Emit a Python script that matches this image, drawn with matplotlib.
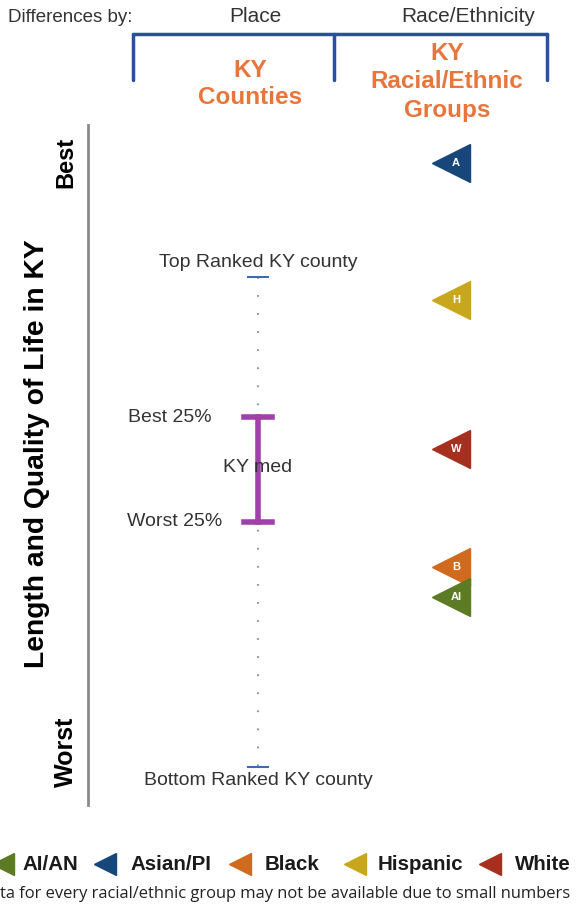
import matplotlib.pyplot as plt

plt.rcParams['font.family'] = ['Liberation Sans', 'DejaVu Sans']

# rank scale: 0 = top ranked KY county, 100 = bottom ranked KY county
county_top = 0
county_bottom = 100
best_25 = 28.6
ky_median = 38.8
worst_25 = 50.0

groups = ["A", "H", "W", "B", "AI"]
group_values = [-23.3, 4.7, 35.1, 59.2, 65.3]
group_colors = ["#17477a", "#c9a71c", "#a5301e", "#d06a1e", "#5d7a25"]

legend_labels = ["AI/AN", "Asian/PI", "Black", "Hispanic", "White"]
legend_colors = ["#5d7a25", "#17477a", "#d06a1e", "#c9a71c", "#a5301e"]

W, H = 584, 911
fig = plt.figure(figsize=(W / 100, H / 100), dpi=100)
ax = fig.add_axes([0, 0, 1, 1])
ax.set_xlim(0, W)
# pixel 277 -> 0, pixel 767 -> 100
scale = (767 - 277) / 100
ax.set_ylim((H - 277) / scale, (0 - 277) / scale)
ax.axis("off")


def fy(p):
    return 1 - p / H


def fx(p):
    return p / W


t = ax.transAxes
orange = "#e8753c"
blue = "#2a4f9c"
grey = "#333333"

# header
ax.text(fx(8), fy(17), "Differences by:", transform=t, fontsize=13.5, color=grey, va="center")
ax.text(fx(255), fy(17), "Place", transform=t, fontsize=15, color=grey, va="center", ha="center")
ax.text(fx(468), fy(17), "Race/Ethnicity", transform=t, fontsize=15, color=grey, va="center", ha="center")
ax.plot([fx(133), fx(547)], [fy(34), fy(34)], transform=t, color=blue, lw=2.5, solid_capstyle="round")
for xp in [133, 334, 547]:
    ax.plot([fx(xp), fx(xp)], [fy(34), fy(80)], transform=t, color=blue, lw=2.5, solid_capstyle="round")
ax.text(fx(250), fy(84), "KY\nCounties", transform=t, fontsize=17.5, color=orange, fontweight="bold",
        ha="center", va="center", linespacing=1.2)
ax.text(fx(447), fy(82), "KY\nRacial/Ethnic\nGroups", transform=t, fontsize=17.5, color=orange, fontweight="bold",
        ha="center", va="center", linespacing=1.3)

# left axis
ax.plot([fx(88), fx(88)], [fy(125), fy(805)], transform=t, color="#8a8a8a", lw=2)
ax.text(fx(66), fy(162), "Best", transform=t, fontsize=17, fontweight="bold", rotation=90, ha="center", va="center")
ax.text(fx(66), fy(752), "Worst", transform=t, fontsize=18, fontweight="bold", rotation=90, ha="center", va="center")
ax.text(fx(37), fy(454), "Length and Quality of Life in KY", transform=t, fontsize=20.3, fontweight="bold",
        rotation=90, ha="center", va="center")

# county column
cx = 258
ax.plot([cx, cx], [county_top, county_bottom], color="#6f8fbf", lw=1.3, linestyle=(0, (1, 9)))
for v in [county_top, county_bottom]:
    ax.plot([cx - 10, cx + 10], [v, v], color="#3d6cb5", lw=1.5)
ax.plot([cx, cx], [best_25, worst_25], color="#a040a8", lw=4, zorder=3)
for v in [best_25, worst_25]:
    ax.plot([cx - 14, cx + 14], [v, v], color="#a040a8", lw=4, zorder=3)
ax.text(cx, county_top - 3, "Top Ranked KY county", fontsize=14, color=grey, ha="center", va="center")
ax.text(cx, county_bottom + 2.8, "Bottom Ranked KY county", fontsize=14, color=grey, ha="center", va="center")
ax.text(212, best_25, "Best 25%", fontsize=14, color=grey, ha="right", va="center")
ax.text(222, worst_25, "Worst 25%", fontsize=14, color=grey, ha="right", va="center")
ax.text(cx, ky_median, "KY med", fontsize=14, color=grey, ha="center", va="center", zorder=4)

# racial/ethnic groups
gx = 451
for g, v, c in zip(groups, group_values, group_colors):
    ax.plot(gx, v, marker="<", markersize=27, color=c, markeredgecolor=c, linestyle="none")
    ax.text(gx + 5, v, g, fontsize=8, color="white", fontweight="bold", ha="center", va="center")

# legend
legend_marker_x = [3, 105, 240, 355, 490]
legend_text_x = [22, 130, 265, 378, 515]
for lab, c, mx, tx in zip(legend_labels, legend_colors, legend_marker_x, legend_text_x):
    ax.plot(fx(mx), fy(864), transform=t, marker="<", markersize=16, color=c, linestyle="none", clip_on=False)
    ax.text(fx(tx), fy(864), lab, transform=t, fontsize=14.8, fontweight="bold", color="#1a1a1a", va="center")

ax.text(fx(0), fy(894), "ta for every racial/ethnic group may not be available due to small numbers",
        transform=t, fontsize=11.9, family=["Open Sans", "DejaVu Sans"], color="#222222", va="center")

fig.savefig("out.png", dpi=100)
